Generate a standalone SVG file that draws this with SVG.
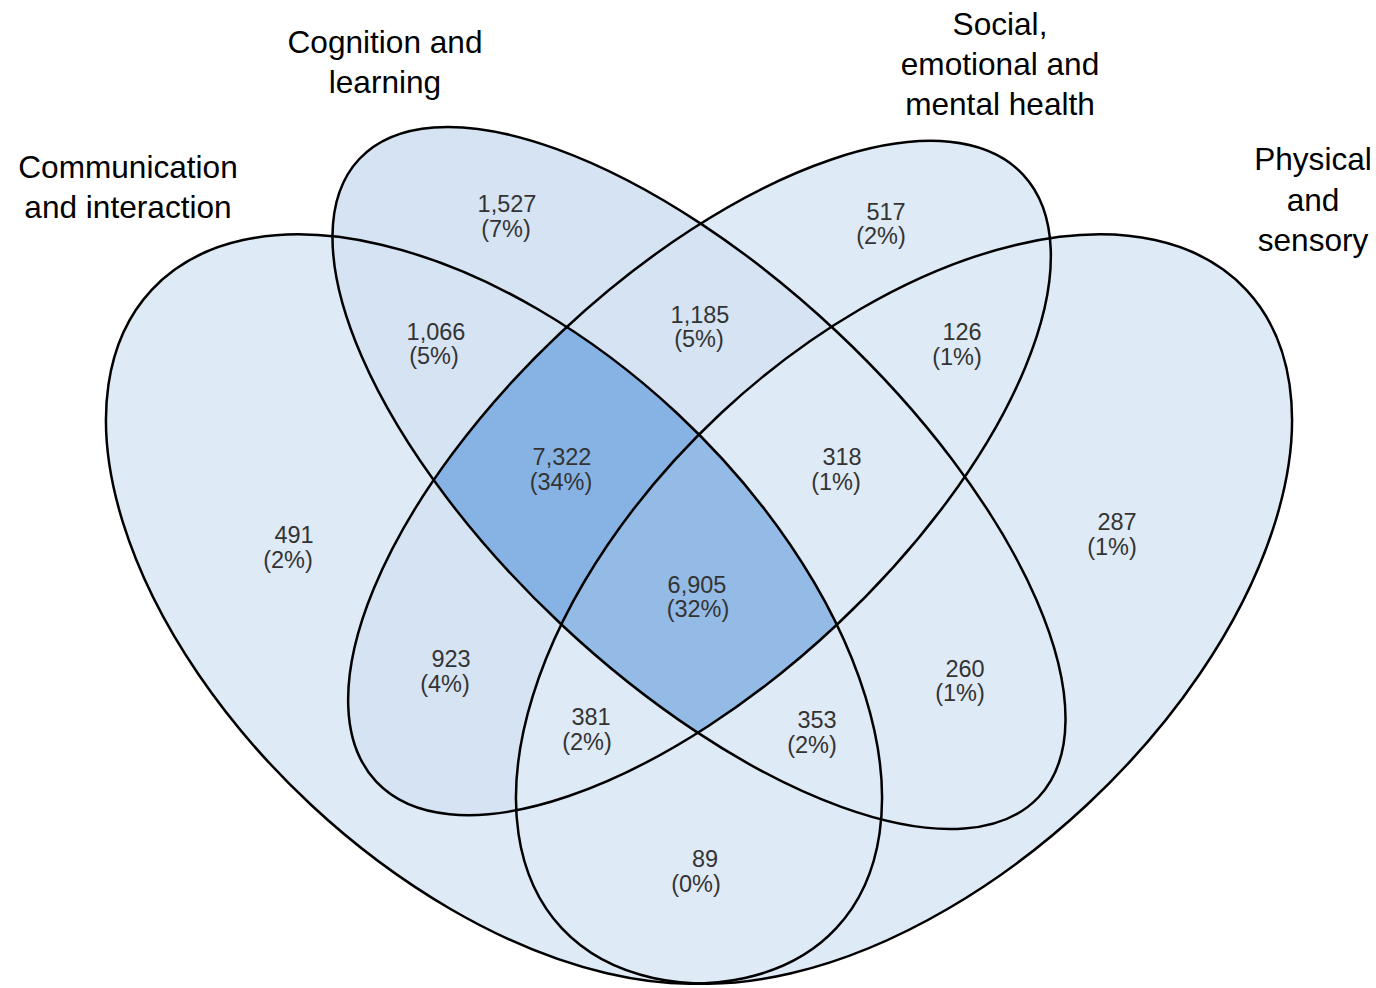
<svg xmlns="http://www.w3.org/2000/svg" width="1376" height="988" viewBox="0 0 1376 988">
<style>
.lab{font-family:"Liberation Sans",Arial,sans-serif;font-size:31.6px;fill:#000;text-anchor:middle}
.num{font-family:"Liberation Sans",Arial,sans-serif;font-size:23.5px;fill:#333;text-anchor:middle}
.edge{fill:none;stroke:#000;stroke-width:2.5}
.L{fill:#dfeaf7}
.M{fill:#d6e3f3}
</style>
<defs>
<clipPath id="cA"><ellipse cx="494" cy="609" rx="468" ry="268" transform="rotate(43 494 609)"/></clipPath>
<clipPath id="cB"><ellipse cx="699" cy="478" rx="466" ry="201" transform="rotate(43.2 699 478)"/></clipPath>
<clipPath id="cC"><ellipse cx="699.5" cy="478" rx="443.5" ry="201" transform="rotate(-43.2 699.5 478)"/></clipPath>
<clipPath id="cD"><ellipse cx="904" cy="609" rx="468" ry="268" transform="rotate(-43 904 609)"/></clipPath>
</defs>
<rect width="1376" height="988" fill="#fff"/>
<g id="fills">
<ellipse class="L" cx="494" cy="609" rx="468" ry="268" transform="rotate(43 494 609)"/>
<ellipse class="L" cx="904" cy="609" rx="468" ry="268" transform="rotate(-43 904 609)"/>
<ellipse class="L" cx="699.5" cy="478" rx="443.5" ry="201" transform="rotate(-43.2 699.5 478)"/>
<ellipse class="M" cx="699" cy="478" rx="466" ry="201" transform="rotate(43.2 699 478)"/>
<g clip-path="url(#cA)"><ellipse class="M" cx="699.5" cy="478" rx="443.5" ry="201" transform="rotate(-43.2 699.5 478)"/></g>
<g clip-path="url(#cB)"><ellipse class="L" cx="904" cy="609" rx="468" ry="268" transform="rotate(-43 904 609)"/></g>
<g clip-path="url(#cA)"><g clip-path="url(#cC)"><ellipse class="L" cx="904" cy="609" rx="468" ry="268" transform="rotate(-43 904 609)"/></g></g>
<g clip-path="url(#cA)"><g clip-path="url(#cB)"><ellipse fill="#87b3e4" cx="699.5" cy="478" rx="443.5" ry="201" transform="rotate(-43.2 699.5 478)"/></g></g>
<g clip-path="url(#cA)"><g clip-path="url(#cB)"><g clip-path="url(#cC)"><ellipse fill="#93bbe6" cx="904" cy="609" rx="468" ry="268" transform="rotate(-43 904 609)"/></g></g></g>
</g>
<g id="set-communication">
<ellipse class="edge" cx="494" cy="609" rx="468" ry="268" transform="rotate(43 494 609)"/>
<text class="lab" x="128" y="178">Communication</text>
<text class="lab" x="128" y="218">and interaction</text>
</g>
<g id="set-cognition">
<ellipse class="edge" cx="699" cy="478" rx="466" ry="201" transform="rotate(43.2 699 478)"/>
<text class="lab" x="385" y="53">Cognition and</text>
<text class="lab" x="385" y="93">learning</text>
</g>
<g id="set-social">
<ellipse class="edge" cx="699.5" cy="478" rx="443.5" ry="201" transform="rotate(-43.2 699.5 478)"/>
<text class="lab" x="1000" y="35">Social,</text>
<text class="lab" x="1000" y="75">emotional and</text>
<text class="lab" x="1000" y="115">mental health</text>
</g>
<g id="set-physical">
<ellipse class="edge" cx="904" cy="609" rx="468" ry="268" transform="rotate(-43 904 609)"/>
<text class="lab" x="1313" y="170">Physical</text>
<text class="lab" x="1313" y="211">and</text>
<text class="lab" x="1313" y="251">sensory</text>
</g>
<g id="region-counts">
<text class="num" x="507" y="212">1,527</text><text class="num" x="506" y="237">(7%)</text>
<text class="num" x="886" y="220">517</text><text class="num" x="881" y="244">(2%)</text>
<text class="num" x="436" y="340">1,066</text><text class="num" x="434" y="364">(5%)</text>
<text class="num" x="700" y="323">1,185</text><text class="num" x="699" y="347">(5%)</text>
<text class="num" x="962" y="340">126</text><text class="num" x="957" y="365">(1%)</text>
<text class="num" x="562" y="465">7,322</text><text class="num" x="561" y="490">(34%)</text>
<text class="num" x="842" y="465">318</text><text class="num" x="836" y="490">(1%)</text>
<text class="num" x="294" y="543">491</text><text class="num" x="288" y="568">(2%)</text>
<text class="num" x="1117" y="530">287</text><text class="num" x="1112" y="555">(1%)</text>
<text class="num" x="697" y="593">6,905</text><text class="num" x="698" y="617">(32%)</text>
<text class="num" x="451" y="667">923</text><text class="num" x="445" y="692">(4%)</text>
<text class="num" x="965" y="677">260</text><text class="num" x="960" y="701">(1%)</text>
<text class="num" x="591" y="725">381</text><text class="num" x="587" y="750">(2%)</text>
<text class="num" x="817" y="728">353</text><text class="num" x="812" y="753">(2%)</text>
<text class="num" x="705" y="867">89</text><text class="num" x="696" y="892">(0%)</text>
</g>
</svg>
